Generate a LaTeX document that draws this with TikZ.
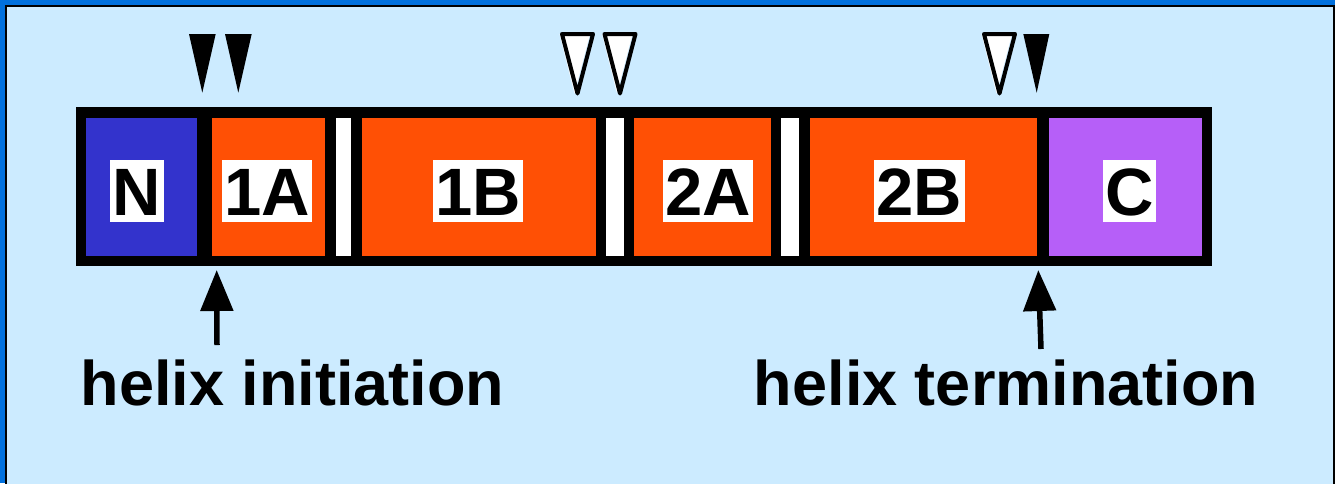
\documentclass[tikz,border=0pt]{standalone}
\usepackage{fontspec}
\setmainfont{Liberation Sans}
\usetikzlibrary{arrows.meta}
\definecolor{frameblue}{RGB}{0,112,221}
\definecolor{bglight}{RGB}{204,235,255}
\definecolor{segN}{RGB}{51,51,204}
\definecolor{segO}{RGB}{255,80,5}
\definecolor{segC}{RGB}{182,95,248}
\tikzset{
  seglabel/.style={fill=white, inner xsep=2.5pt, inner ysep=0pt, text height=55pt, text depth=7pt,
    font=\bfseries\fontsize{67}{67}\selectfont},
  caption/.style={anchor=base, inner sep=0pt, font=\bfseries\fontsize{63}{63}\selectfont},
  pointer/.style={line width=5.5pt, -{Triangle[length=41pt,width=32pt]}},
  hollowtri/.style={draw=black, line width=4pt, line join=round},
}
\begin{document}
\begin{tikzpicture}[x=1pt,y=-1pt]
\useasboundingbox (0,0) rectangle (1335,483);
\clip (0,0) rectangle (1335,483);
% frame
\fill[frameblue] (0,0) rectangle (1335,483);
\filldraw[fill=bglight, draw=black, line width=2.5pt] (6,6) rectangle (1333.8,520);
% bar
\fill[black] (76,107) rectangle (1212,266);
\fill[segN] (86,118) rectangle (197,256);
\fill[segO] (212,118) rectangle (325,256);
\fill[white] (336,118) rectangle (351,256);
\fill[segO] (362,118) rectangle (596,256);
\fill[white] (606,118) rectangle (624,256);
\fill[segO] (634,118) rectangle (771,256);
\fill[white] (781,118) rectangle (799,256);
\fill[segO] (810,118) rectangle (1037,256);
\fill[segC] (1049,118) rectangle (1202,256);
% labels
\node[seglabel] (lN) at (137,191) {N};
\node[seglabel] (l1A) at (267,191) {1A};
\node[seglabel] (l1B) at (478,191) {1B};
\node[seglabel] (l2A) at (708,191) {2A};
\node[seglabel] (l2B) at (919.5,191) {2B};
\node[seglabel] (lC) at (1129.5,191) {C};
% black triangles
\fill[black] (189,34) -- (215.7,34) -- (202.3,92.7) -- cycle;
\fill[black] (225,34) -- (251.7,34) -- (238.3,92.7) -- cycle;
\fill[black] (1023.3,34) -- (1049.3,34) -- (1036.7,92.7) -- cycle;
% hollow triangles
\foreach \cx in {577.5, 620, 999.5} {
  \fill[white] (\cx-18,34) -- (\cx+12.5,34) -- (\cx-3,93.5) -- cycle;
  \draw[hollowtri] (\cx-15.5,34) -- (\cx+15.5,34) -- (\cx,93.5) -- cycle;
}
% captions
\node[caption] (ti) at (292.5,405) {helix initiation};
\node[caption] (tt) at (1006,405) {helix termination};
\coordinate (a1s) at (217,345);
\coordinate (a1e) at (216.7,270);
\coordinate (a2s) at (1041,349);
\coordinate (a2e) at (1038.3,270);
\draw[pointer] (a1s) -- (a1e);
\draw[pointer] (a2s) -- (a2e);
\end{tikzpicture}
\end{document}
